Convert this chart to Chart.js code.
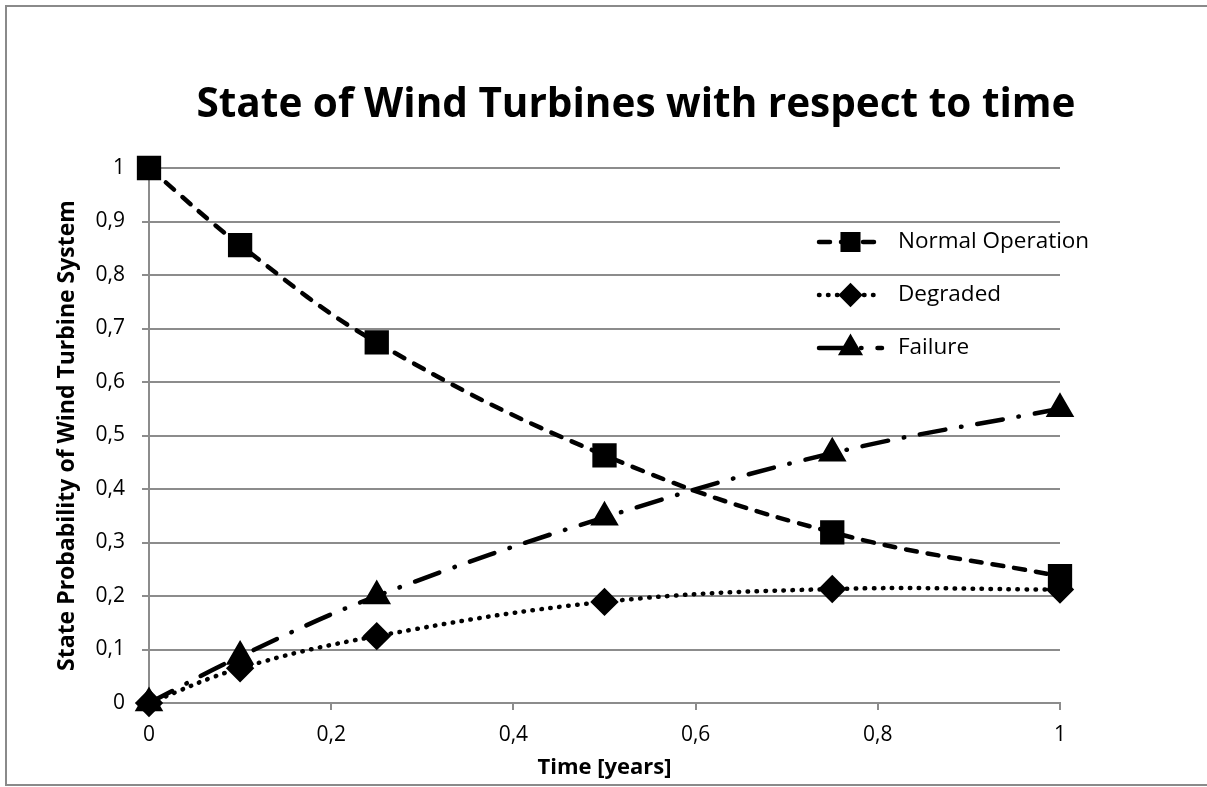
<!DOCTYPE html>
<html>
<head>
<meta charset="utf-8">
<title>State of Wind Turbines with respect to time</title>
<script src="https://cdn.jsdelivr.net/npm/chart.js@4.4.1/dist/chart.umd.min.js"></script>
<style>
  html, body { margin: 0; padding: 0; background: #fff; }
  #wrap { position: relative; width: 1207px; height: 787px; }
</style>
</head>
<body>
<div id="wrap"><canvas id="turbineChart" width="1207" height="787"></canvas></div>
<script>
// Data
const timeYears = [0, 0.1, 0.25, 0.5, 0.75, 1];
const normalOperation = [1, 0.856, 0.674, 0.463, 0.319, 0.237];
const degraded = [0, 0.065, 0.125, 0.189, 0.213, 0.212];
const failure = [0, 0.087, 0.2, 0.347, 0.467, 0.55];

const xTickLabels = ["0", "0,2", "0,4", "0,6", "0,8", "1"];
const yTickLabels = ["0", "0,1", "0,2", "0,3", "0,4", "0,5", "0,6", "0,7", "0,8", "0,9", "1"];

const chartTitle = "State of Wind Turbines with respect to time";

const FONT = "'Open Sans', Lato, sans-serif";
const GRID = "#8c8c8c";

function toPoints(ys) {
  return timeYears.map((x, i) => ({ x: x, y: ys[i] }));
}

// Outer frame like the Excel chart border, plus the title
const framePlugin = {
  id: "frame",
  beforeDraw(chart) {
    const ctx = chart.ctx;
    ctx.save();
    ctx.fillStyle = "#fff";
    ctx.fillRect(0, 0, chart.width, chart.height);
    ctx.strokeStyle = "#8a8a8a";
    ctx.lineWidth = 2;
    ctx.strokeRect(6, 6, chart.width + 10, 779);
    ctx.fillStyle = "#000";
    ctx.font = "bold 40.5px " + FONT;
    ctx.textAlign = "center";
    ctx.textBaseline = "middle";
    ctx.fillText(chartTitle, 636, 105);
    ctx.restore();
  },
};

// Legend drawn inside the plot area, right side
const insideLegend = {
  id: "insideLegend",
  afterDraw(chart) {
    const ctx = chart.ctx;
    const area = chart.chartArea;
    const x0 = area.right - 241;
    const x1 = area.right - 178;
    const tx = area.right - 162;
    const rowY = [242, 295, 348];
    chart.data.datasets.forEach((ds, i) => {
      const y = rowY[i];
      ctx.save();
      ctx.strokeStyle = "#000";
      ctx.lineWidth = ds.borderWidth;
      ctx.lineCap = "round";
      ctx.setLineDash(ds.borderDash);
      ctx.beginPath();
      ctx.moveTo(x0, y);
      ctx.lineTo(x1, y);
      ctx.stroke();
      ctx.setLineDash([]);
      ctx.fillStyle = "#000";
      Chart.helpers.drawPoint(ctx, {
        pointStyle: ds.pointStyle,
        radius: ds.legendRadius,
        rotation: 0,
        borderWidth: 1,
      }, (x0 + x1) / 2, y);
      ctx.fill();
      ctx.fillStyle = "#000";
      ctx.font = "22.5px " + FONT;
      ctx.textBaseline = "middle";
      ctx.textAlign = "left";
      ctx.fillText(ds.label, tx, y);
      ctx.restore();
    });
  },
};

const ctx = document.getElementById("turbineChart").getContext("2d");

new Chart(ctx, {
  type: "line",
  data: {
    datasets: [
      {
        label: "Normal Operation",
        data: toPoints(normalOperation),
        borderColor: "#000",
        backgroundColor: "#000",
        borderWidth: 4.5,
        borderDash: [11, 11],
        borderCapStyle: "round",
        pointStyle: "rect",
        pointRadius: 14,
        legendRadius: 11,
        pointBackgroundColor: "#000",
        pointBorderColor: "#000",
        tension: 0.4,
      },
      {
        label: "Degraded",
        data: toPoints(degraded),
        borderColor: "#000",
        backgroundColor: "#000",
        borderWidth: 4.5,
        borderDash: [0.5, 8.5],
        borderCapStyle: "round",
        pointStyle: "rectRot",
        pointRadius: 11,
        legendRadius: 9,
        pointBackgroundColor: "#000",
        pointBorderColor: "#000",
        tension: 0.4,
      },
      {
        label: "Failure",
        data: toPoints(failure),
        borderColor: "#000",
        backgroundColor: "#000",
        borderWidth: 4.5,
        borderDash: [26, 16, 0.5, 16],
        borderCapStyle: "round",
        pointStyle: "triangle",
        pointRadius: 12,
        legendRadius: 10,
        pointBackgroundColor: "#000",
        pointBorderColor: "#000",
        tension: 0.4,
      },
    ],
  },
  options: {
    responsive: false,
    animation: false,
    clip: false,
    layout: {
      padding: { left: 48, right: 147, top: 168, bottom: 6 },
    },
    plugins: {
      legend: { display: false },
      tooltip: { enabled: false },
      title: { display: false },
    },
    scales: {
      x: {
        type: "linear",
        min: 0,
        max: 1,
        afterFit(scale) { scale.height = 78; },
        afterBuildTicks(scale) {
          scale.ticks = xTickLabels.map((_, i) => ({ value: i * 0.2 }));
        },
        ticks: {
          color: "#000",
          font: { family: FONT, size: 21 },
          padding: 12,
          maxRotation: 0,
          callback: (v, i) => xTickLabels[i],
        },
        grid: {
          drawOnChartArea: false,
          drawTicks: true,
          tickLength: 7,
          color: GRID,
          lineWidth: 2,
        },
        border: { color: GRID, width: 2 },
        title: {
          display: true,
          text: "Time [years]",
          color: "#000",
          font: { family: FONT, size: 22, weight: "bold" },
          padding: { top: 0, bottom: 0 },
        },
      },
      y: {
        type: "linear",
        min: 0,
        max: 1,
        afterFit(scale) { scale.width = 101; },
        afterBuildTicks(scale) {
          scale.ticks = yTickLabels.map((_, i) => ({ value: i / 10 }));
        },
        ticks: {
          color: "#000",
          font: { family: FONT, size: 21 },
          padding: 17,
          callback: (v, i) => yTickLabels[i],
        },
        grid: {
          drawTicks: true,
          tickLength: 7,
          color: GRID,
          lineWidth: 2,
        },
        border: { color: GRID, width: 2 },
        title: {
          display: true,
          text: "State Probability of Wind Turbine System",
          color: "#000",
          font: { family: FONT, size: 23, weight: "bold" },
          padding: { top: 6, bottom: 0 },
        },
      },
    },
  },
  plugins: [framePlugin, insideLegend],
});
</script>
</body>
</html>
